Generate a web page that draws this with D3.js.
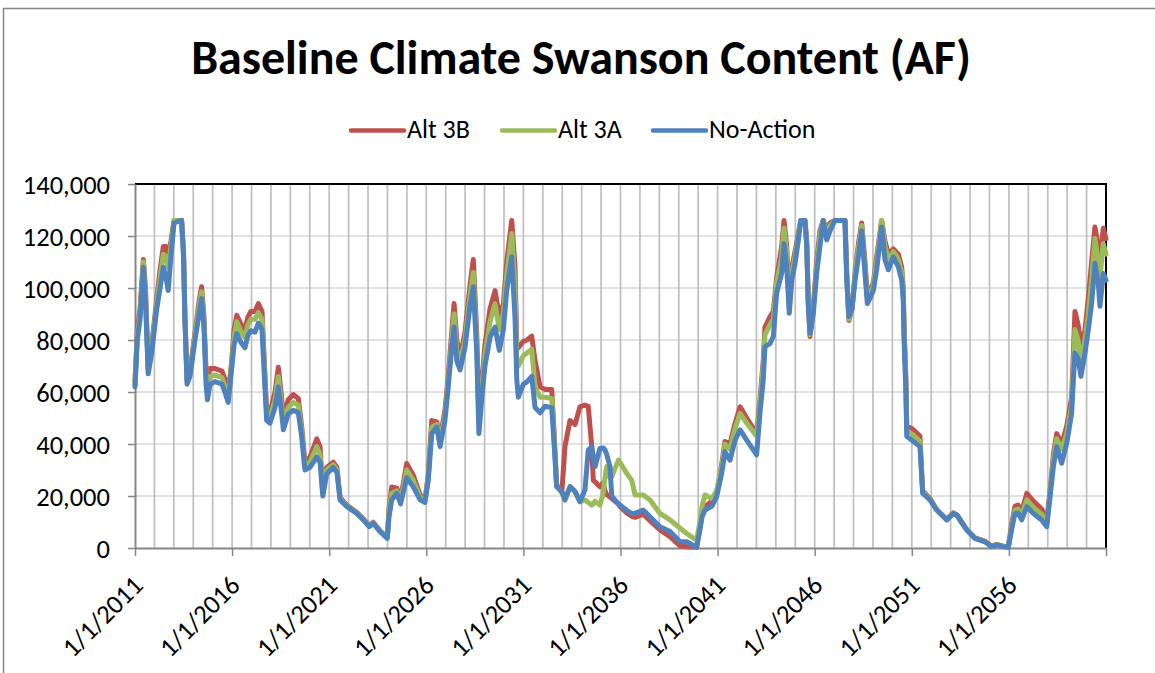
<!DOCTYPE html>
<html><head><meta charset="utf-8">
<script src="https://cdn.jsdelivr.net/npm/d3@7"></script>
<style>
body{margin:0;background:#fff}
svg{display:block}
text{font-family:Carlito, Calibri, Lato, sans-serif}
</style>
</head><body><svg id="chart" width="1155" height="673"></svg>
<script>
const chartTitle = "Baseline Climate Swanson Content (AF)";
const seriesNames = ["Alt 3B", "Alt 3A", "No-Action"];
const seriesColors = ["#C0504D", "#9BBB59", "#4F81BD"];
const yTickValues = [0, 20000, 40000, 60000, 80000, 100000, 120000, 140000];
const xTickYears = [2011, 2016, 2021, 2026, 2031, 2036, 2041, 2046, 2051, 2056, 2061];
const xTickLabels = ["1/1/2011", "1/1/2016", "1/1/2021", "1/1/2026", "1/1/2031", "1/1/2036", "1/1/2041", "1/1/2046", "1/1/2051", "1/1/2056", ""];

const years = [
2011.00,2011.12,2011.26,2011.43,2011.54,2011.68,2011.86,2012.12,2012.29,2012.46,
2012.60,2012.71,2012.85,2013.01,2013.40,2013.50,2013.57,2013.68,2013.83,2014.09,
2014.30,2014.43,2014.55,2014.66,2014.73,2014.86,2015.12,2015.48,2015.63,2015.80,
2015.98,2016.10,2016.24,2016.46,2016.66,2016.82,2016.97,2017.18,2017.35,2017.54,
2017.67,2017.78,2017.95,2018.21,2018.38,2018.55,2018.64,2018.89,2019.15,2019.41,
2019.58,2019.75,2020.01,2020.36,2020.53,2020.67,2020.87,2021.21,2021.40,2021.56,
2021.90,2022.42,2022.76,2023.06,2023.27,2023.62,2023.99,2024.08,2024.22,2024.48,
2024.68,2024.99,2025.33,2025.68,2025.93,2026.10,2026.28,2026.54,2026.71,2026.96,
2027.13,2027.31,2027.43,2027.57,2027.74,2027.99,2028.25,2028.42,2028.60,2028.71,
2028.85,2029.02,2029.28,2029.54,2029.76,2029.97,2030.14,2030.40,2030.57,2030.66,
2030.74,2031.00,2031.19,2031.43,2031.60,2031.86,2032.11,2032.46,2032.63,2032.71,
2032.99,2033.14,2033.40,2033.66,2033.91,2034.17,2034.34,2034.52,2034.60,2034.69,
2034.94,2035.11,2035.20,2035.29,2035.46,2035.55,2035.89,2035.97,2036.32,2036.58,
2036.75,2037.17,2037.52,2038.03,2038.55,2039.07,2039.41,2039.92,2040.09,2040.20,
2040.35,2040.70,2040.95,2041.21,2041.38,2041.64,2041.90,2042.16,2042.50,2043.01,
2043.18,2043.35,2043.44,2043.70,2043.87,2044.04,2044.30,2044.42,2044.56,2044.69,
2044.82,2044.99,2045.16,2045.28,2045.50,2045.59,2045.67,2045.76,2045.93,2046.10,
2046.27,2046.44,2046.62,2046.79,2047.04,2047.56,2047.65,2047.76,2047.92,2048.08,
2048.25,2048.42,2048.59,2048.71,2048.85,2049.02,2049.19,2049.45,2049.62,2049.79,
2050.05,2050.31,2050.48,2050.56,2050.60,2050.70,2050.74,2050.99,2051.42,2051.56,
2051.94,2052.28,2052.80,2053.14,2053.33,2053.83,2054.25,2054.77,2055.11,2055.37,
2055.71,2055.97,2056.14,2056.31,2056.47,2056.66,2056.92,2057.26,2057.69,2057.95,
2058.12,2058.29,2058.46,2058.72,2058.98,2059.23,2059.32,2059.40,2059.56,2059.71,
2059.92,2060.09,2060.26,2060.43,2060.60,2060.69,2060.86,2061.00
];

const noAction = [
62000,80000,88000,108000,95000,67000,75000,92000,100000,108000,
104000,99000,112000,125000,126000,112000,88000,63000,66000,80000,
90000,96000,85000,63000,57000,63000,64000,63000,60000,56000,
69000,78000,82500,79000,77000,82000,83500,83000,86500,84000,
65000,49000,48000,54000,62000,52000,45500,51500,53000,52000,
43000,30000,31000,35000,33000,20000,28500,31000,29000,18500,
16000,13300,10800,8200,9500,6300,3700,12000,18500,21000,
17000,27000,23500,18500,17500,26000,44000,46500,39000,49000,
62000,77000,85000,72000,68500,77000,93000,100500,75000,44000,
57000,70000,81000,85000,76000,84000,99000,112000,88000,64500,
58000,63000,64000,66000,54000,52000,54500,54000,34000,23600,
21700,18500,23600,21700,17800,22300,37700,39000,35000,31300,
38300,38500,37700,36000,31300,20000,17000,16500,14500,13300,
13300,14600,12000,8200,6300,2400,2400,300,6900,12000,
14600,16000,19700,28700,37000,33800,41500,45400,41500,35800,
51800,64600,77400,78700,81300,98000,105600,117000,108000,90300,
103000,109500,118500,126000,126000,116000,93000,82600,90300,105600,
116000,126000,118500,122000,126000,126000,103000,89000,92000,103000,
112000,122000,105600,94000,96000,99000,107000,123500,110800,107000,
112000,108000,103000,95400,80000,59500,43000,41500,39000,21000,
18500,14600,10800,13300,12500,6900,3700,2400,500,1200,
500,300,6900,13300,13500,10800,15900,13300,10800,8200,
19700,31300,39000,32600,40300,51800,64600,75000,73000,66000,
75000,84000,94000,109500,102000,93000,105600,103000
];

const alt3A = [
63000,82000,90000,110000,98000,68000,77000,94000,104000,113000,
112000,108000,116000,126000,126000,113000,89000,64000,67000,82000,
93000,98500,87000,66000,62000,66000,66500,65500,62000,58000,
71000,81000,87000,83000,81000,86000,88000,88000,90500,88000,
68000,51000,50000,57000,66000,55000,48000,54000,56000,55000,
45000,31500,33000,39000,36000,21000,30000,32000,30000,19000,
16300,13500,11000,8400,9700,6500,3900,14000,21000,22000,
18000,30000,26000,19500,18000,27000,46500,47500,41000,51000,
64000,80000,90000,76000,71000,80000,97000,106000,78000,47000,
60000,74000,87000,94000,84000,90000,105000,121000,100000,72000,
70000,74000,75000,76500,62000,58000,58000,57500,36000,24000,
21000,18500,23600,21700,17800,18500,17500,16500,17000,18000,
16500,21000,27000,31300,27000,27500,33800,33000,28700,26000,
20400,20400,18500,13300,10800,7600,5600,3000,10000,16000,
20400,19000,22000,31000,40000,38000,46000,51800,48000,43000,
55000,70000,82000,86000,88000,102000,112000,123000,113000,92000,
106000,112000,120000,126000,126000,117000,94000,82000,92000,108000,
120000,126000,121000,124000,126000,126000,105000,88000,92000,105000,
115000,124000,108000,96000,98000,101000,110000,126000,116000,111000,
114000,111000,106000,98000,84000,62000,45000,44000,41000,21500,
18700,14700,10900,13400,12600,7000,3800,2500,600,1300,
600,400,8000,14500,15000,12500,18500,15500,13000,9500,
21000,34000,42000,38000,44000,55000,70000,84000,80000,72000,
80000,90000,103000,119000,110000,104000,117000,113000
];

const alt3B = [
64000,84000,92000,111000,100000,69000,78000,96000,107000,116000,
116000,112000,118000,126000,126000,114000,90000,65000,68000,83000,
95000,100500,89000,68000,65000,69000,69000,68000,65000,59000,
72000,84000,89500,86000,84000,89000,91000,91000,94000,91000,
70000,53000,52000,60000,69500,58000,50000,57000,59000,57500,
47000,33000,35000,42000,39000,22000,31000,33000,31000,19500,
16500,13700,11200,8600,9900,6600,4000,15000,23500,23000,
19000,32500,28000,20500,18500,28000,49000,48500,42000,53000,
66000,83000,94000,80000,73000,83000,101000,111000,82000,50000,
63000,78000,92000,99000,89000,94000,110000,126000,108000,78000,
77000,79500,80000,81500,72000,62000,61000,61000,37000,24000,
22500,39000,49000,47500,54300,55000,54500,39000,26000,25500,
23600,25000,22000,20500,19700,19000,17000,16000,13500,12200,
11800,13000,10500,7000,4400,800,500,300,8000,13000,
16000,18000,21000,32000,41000,40000,48000,54300,50000,44000,
57000,72000,85000,89000,91000,104000,116000,126000,116000,94000,
108000,114000,121000,126000,126000,118000,95000,81300,93000,110000,
122000,126000,122000,125000,126000,126000,106000,87500,92000,106000,
117000,125000,110000,97000,99000,102000,112000,126000,118000,113000,
115000,113000,108000,100000,86000,64000,47000,46000,43000,22000,
19000,14800,11000,13500,12700,7100,3900,2600,700,1400,
700,500,9000,16000,16500,14000,21000,18000,15000,10500,
22000,36000,44000,40000,47000,58000,75000,91000,86000,78000,
84000,96000,110000,123500,116000,110000,123000,119000
];

const seriesValues = [alt3B, alt3A, noAction];

const svg = d3.select("#chart");
const plot = {left: 135, right: 1106, top: 184, bottom: 548};
const FONT = "Carlito, Calibri, Lato, sans-serif";

// outer chart frame
svg.append("rect").attr("x", 3.5).attr("y", 8.5).attr("width", 1300).attr("height", 800)
  .attr("fill", "#fff").attr("stroke", "#868686").attr("stroke-width", 1.5);

const x = d3.scaleLinear().domain([2011, 2061]).range([plot.left, plot.right]);
const y = d3.scaleLinear().domain([0, 140000]).range([plot.bottom, plot.top]);

// gridlines
const g = svg.append("g");
g.selectAll("line.h").data(yTickValues.filter(v => v > 0 && v < 140000)).join("line")
  .attr("x1", plot.left).attr("x2", plot.right)
  .attr("y1", d => y(d)).attr("y2", d => y(d))
  .attr("stroke", "#d9d9d9").attr("stroke-width", 1.5);
g.selectAll("line.v").data(d3.range(2012, 2061)).join("line")
  .attr("x1", d => x(d)).attr("x2", d => x(d))
  .attr("y1", plot.top).attr("y2", plot.bottom)
  .attr("stroke", "#c0c0c0").attr("stroke-width", 1.75);

// plot border top/right (black)
svg.append("path")
  .attr("d", `M${plot.left},${plot.top}H${plot.right}V${plot.bottom}`)
  .attr("fill", "none").attr("stroke", "#000").attr("stroke-width", 2);

// axes
const yAxis = d3.axisLeft(y).tickValues(yTickValues).tickFormat(d3.format(",")).tickSizeInner(7).tickSizeOuter(0).tickPadding(18);
const ya = svg.append("g").attr("transform", `translate(${plot.left},0)`).call(yAxis);
ya.select(".domain").attr("stroke", "#868686").attr("stroke-width", 2);
ya.selectAll(".tick line").attr("stroke", "#868686").attr("stroke-width", 1.5);
ya.selectAll(".tick text").attr("font-size", 26.5).attr("fill", "#000")
  .attr("dy", "0.34em").style("font-family", FONT);

const xAxis = d3.axisBottom(x).tickValues(xTickYears)
  .tickFormat((d, i) => xTickLabels[i]).tickSizeInner(8).tickSizeOuter(0);
const xa = svg.append("g").attr("transform", `translate(0,${plot.bottom})`).call(xAxis);
xa.select(".domain").attr("stroke", "#868686").attr("stroke-width", 2);
xa.selectAll(".tick line").attr("stroke", "#868686").attr("stroke-width", 1.5);
xa.selectAll(".tick text")
  .attr("x", 0).attr("y", 0).attr("dy", "0")
  .attr("font-size", 26.5).attr("fill", "#000")
  .style("font-family", FONT)
  .attr("text-anchor", "end")
  .attr("transform", "translate(9,39) rotate(-45)");

// series lines
const line = d3.line().x((d, i) => x(years[i])).y(d => y(d));
svg.append("g").selectAll("path").data(seriesValues).join("path")
  .attr("d", d => line(d))
  .attr("fill", "none")
  .attr("stroke", (d, i) => seriesColors[i])
  .attr("stroke-width", 5)
  .attr("stroke-linejoin", "round").attr("stroke-linecap", "round");

// title
svg.append("text").attr("x", 581).attr("y", 73.5).attr("text-anchor", "middle")
  .attr("font-size", 48).attr("font-weight", "bold").attr("fill", "#000")
  .text(chartTitle);

// legend
const legendX = [351, 502, 653];
const lg = svg.append("g").selectAll("g").data(seriesNames).join("g")
  .attr("transform", (d, i) => `translate(${legendX[i]},130.5)`);
lg.append("line").attr("x1", 0).attr("x2", 53).attr("y1", 0).attr("y2", 0)
  .attr("stroke", (d, i) => seriesColors[i]).attr("stroke-width", 4.5).attr("stroke-linecap", "round");
lg.append("text").attr("x", 56).attr("y", 7.5).attr("font-size", 26).attr("fill", "#000").text(d => d);
</script>
</body></html>
